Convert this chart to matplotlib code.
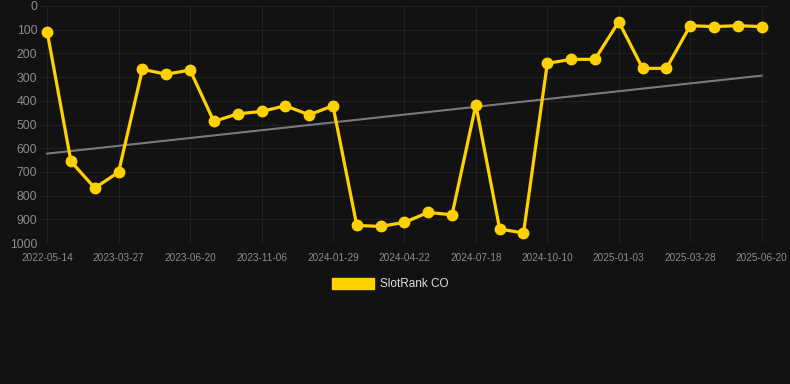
import numpy as np
import matplotlib
matplotlib.use('Agg')
import matplotlib.pyplot as plt
import matplotlib.patches as mpatches

plt.rcParams.update({'font.family': ['Liberation Sans', 'DejaVu Sans']})

# rank per snapshot (lower is better), one point per date
ranks = [108, 656, 768, 701, 267, 288, 270, 487, 455, 445, 421, 459, 421,
         926, 930, 913, 871, 881, 417, 941, 958, 242, 225, 225, 66, 263,
         263, 83, 87, 83, 87]
tick_labels = ['2022-05-14', '2023-03-27', '2023-06-20', '2023-11-06',
               '2024-01-29', '2024-04-22', '2024-07-18', '2024-10-10',
               '2025-01-03', '2025-03-28', '2025-06-20']
series_name = 'SlotRank CO'

bg = '#121212'
gold = '#FFD100'

x = np.arange(len(ranks))
slope, icpt = np.polyfit(x, ranks, 1)
trend = slope * x + icpt

fig = plt.figure(figsize=(7.9, 3.84), dpi=100, facecolor=bg)
ax = fig.add_axes([40/790, 1 - 243/384, 730/790, 237/384])
ax.set_facecolor(bg)

ax.plot(x, trend, color='#7a7a7a', lw=1.5, zorder=2)
ax.plot(x, ranks, color=gold, lw=2.3, marker='o', ms=7.5, zorder=3)

ax.set_ylim(1000, 0)
ax.set_yticks(np.arange(0, 1001, 100))
ax.set_xlim(-0.3, 30.35)
ax.set_xticks(x[::3])
ax.set_xticklabels(tick_labels)
ax.tick_params(axis='y', colors='#8c8c8c', labelsize=8.8, length=0, pad=2)
ax.tick_params(axis='x', colors='#8c8c8c', labelsize=7.2, length=0, pad=7)
ax.grid(True, color='#212121', lw=0.8)
for s in ax.spines.values():
    s.set_visible(False)

handle = mpatches.Patch(color=gold, label=series_name)
fig.legend(handles=[handle], loc='center', bbox_to_anchor=(390/790, 1 - 284/384),
           frameon=False, fontsize=8.5, labelcolor='#dddddd',
           handlelength=3.6, handleheight=1.1, handletextpad=0.5)

fig.savefig('out.png', dpi=100, facecolor=bg)
plt.close(fig)
